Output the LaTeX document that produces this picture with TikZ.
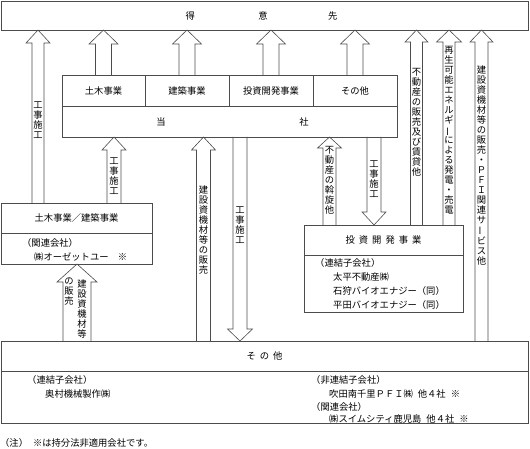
\documentclass[tikz,border=0pt]{standalone}
\usepackage{graphicx}
\usepackage{fontspec}
\setmainfont{Noto Sans CJK JP}
\usetikzlibrary{calc}
\newcommand\vchoon{\rotatebox[origin=c]{90}{ー}}
\newcommand\blockarrow[5]{%
  \draw[ln] let \p1=#1, \p2=#2, \n1={ifthenelse(\y2>\y1,1,-1)} in
    (\x1-#3,\y1) -- (\x1-#3,\y2-\n1*#5) -- (\x1-#4,\y2-\n1*#5) -- (\x2,\y2)
    -- (\x1+#4,\y2-\n1*#5) -- (\x1+#3,\y2-\n1*#5) -- (\x1+#3,\y1);}
\tikzset{
  ln/.style={draw=black!70, line width=0.6pt},
  box/.style={ln, inner sep=0pt, outer sep=0pt, anchor=north west, font=\fontsize{9.3}{11}\selectfont},
  lab/.style={inner sep=0pt, font=\fontsize{9.3}{11}\selectfont},
  labw/.style={lab, anchor=west},
  vt/.style={align=center, inner sep=0pt, font=\fontsize{9.3}{10}\selectfont},
}
\begin{document}
\begin{tikzpicture}[x=1pt,y=-1pt]
\useasboundingbox (0,0) rectangle (530,449);
% boxes
\node[box, minimum width=527pt, minimum height=29pt] (top) at (1,1) {};
\node[lab] (tTop) at (261.5,15.5) {得\hspace{63.5pt}意\hspace{60.5pt}先};
\node[box, minimum width=83pt, minimum height=31pt] (s1) at (62,75) {土木事業};
\node[box, minimum width=84pt, minimum height=31pt] (s2) at (145,75) {建築事業};
\node[box, minimum width=84pt, minimum height=31pt] (s3) at (229,75) {投資開発事業};
\node[box, minimum width=84pt, minimum height=31pt] (s4) at (313,75) {その他};
\node[box, minimum width=335pt, minimum height=31pt] (tosha) at (62,106) {};
\node[lab] (tTo) at (161,122) {当};
\node[lab] (tSha) at (304,122) {社};
\node[box, minimum width=151pt, minimum height=30pt] (lbox) at (1,203) {土木事業／建築事業};
\node[box, minimum width=151pt, minimum height=31pt] (lbox2) at (1,233) {};
\node[labw] (l1) at (22,243) {（関連会社）};
\node[labw] (l2) at (34,257) {㈱オーゼットユー　※};
\node[box, minimum width=159pt, minimum height=30pt] (pbox) at (304,225) {投\hspace{4pt}資\hspace{4pt}開\hspace{4pt}発\hspace{4pt}事\hspace{4pt}業};
\node[box, minimum width=159pt, minimum height=57pt] (pbox2) at (304,255) {};
\node[labw] (p1) at (315,263) {（連結子会社）};
\node[labw] (p2) at (333,277) {太平不動産㈱};
\node[labw] (p3) at (333,291) {石狩バイオエナジー（同）};
\node[labw] (p4) at (333,305) {平田バイオエナジー（同）};
\node[box, minimum width=527pt, minimum height=30pt] (bbox) at (1,341) {そ\hspace{4pt}の\hspace{4pt}他};
\node[box, minimum width=527pt, minimum height=52pt] (bbox2) at (1,371) {};
\node[labw] (b1) at (27,380) {（連結子会社）};
\node[labw] (b2) at (45,394) {奥村機械製作㈱};
\node[labw] (b3) at (311,380) {（非連結子会社）};
\node[labw] (b4) at (329,394) {吹田南千里ＰＦＩ㈱\hspace{5pt}他４社\hspace{5pt}※};
\node[labw] (b5) at (311,407) {（関連会社）};
\node[labw] (b6) at (329,419) {㈱スイムシティ鹿児島\hspace{5pt}他４社\hspace{5pt}※};
\node[labw] (note) at (0,442.5) {（注）\hspace{5pt}※は持分法非適用会社です。};
% x positions of arrows
\coordinate (xa) at (38,0);
\coordinate (xf) at (416.5,0);
\coordinate (xg) at (449,0);
\coordinate (xh) at (481.5,0);
\coordinate (xi) at (114,0);
\coordinate (xj) at (203.5,0);
\coordinate (xk) at (240,0);
\coordinate (xl) at (329.5,0);
\coordinate (xm) at (374,0);
\coordinate (xn) at (77,0);
% arrows
\blockarrow{(lbox.north -| xa)}{(top.south -| xa)}{6pt}{12pt}{13pt}
\blockarrow{(s1.north)}{(top.south -| s1.north)}{8pt}{14.5pt}{14pt}
\blockarrow{(s2.north)}{(top.south -| s2.north)}{8pt}{14.5pt}{14pt}
\blockarrow{(s3.north)}{(top.south -| s3.north)}{8pt}{14.5pt}{14pt}
\blockarrow{(s4.north)}{(top.south -| s4.north)}{8pt}{14.5pt}{14pt}
\blockarrow{(pbox.north -| xf)}{(top.south -| xf)}{6pt}{11.5pt}{12pt}
\blockarrow{(pbox.north -| xg)}{(top.south -| xg)}{6pt}{12.5pt}{12pt}
\blockarrow{(bbox.north -| xh)}{(top.south -| xh)}{6.5pt}{11.5pt}{12pt}
\blockarrow{(lbox.north -| xi)}{(tosha.south -| xi)}{7pt}{12pt}{13pt}
\blockarrow{(bbox.north -| xj)}{(tosha.south -| xj)}{7pt}{12pt}{13pt}
\blockarrow{(tosha.south -| xk)}{(bbox.north -| xk)}{7pt}{12.5pt}{12pt}
\blockarrow{(pbox.north -| xl)}{(tosha.south -| xl)}{6.5pt}{12pt}{11pt}
\blockarrow{(tosha.south -| xm)}{(pbox.north -| xm)}{7pt}{12pt}{13pt}
\blockarrow{(bbox.north -| xn)}{(lbox2.south -| xn)}{14pt}{20pt}{18pt}
% vertical labels
\node[vt] (va) at (38,120) {工\\事\\施\\工};
\node[vt] (vf) at (416.5,122) {不\\動\\産\\の\\販\\売\\及\\び\\賃\\貸\\他};
\node[vt] (vg) at (449,130.5) {再\\生\\可\\能\\エ\\ネ\\ル\\ギ\\\vchoon\\に\\よ\\る\\発\\電\\・\\売\\電};
\node[vt] (vh) at (481.5,165.5) {建\\設\\資\\機\\材\\等\\の\\販\\売\\・\\Ｐ\\Ｆ\\Ｉ\\関\\連\\サ\\\vchoon\\ビ\\ス\\他};
\node[vt] (vi) at (114,176) {工\\事\\施\\工};
\node[vt] (vj) at (203.5,230) {建\\設\\資\\機\\材\\等\\の\\販\\売};
\node[vt] (vk) at (240,225) {工\\事\\施\\工};
\node[vt] (vl) at (329.5,180) {不\\動\\産\\の\\斡\\旋\\他};
\node[vt] (vm) at (374,179) {工\\事\\施\\工};
\node[vt] (vn1) at (82,308.5) {建\\設\\資\\機\\材\\等};
\node[vt] (vn2) at (69,292) {の\\販\\売};
\end{tikzpicture}
\end{document}
